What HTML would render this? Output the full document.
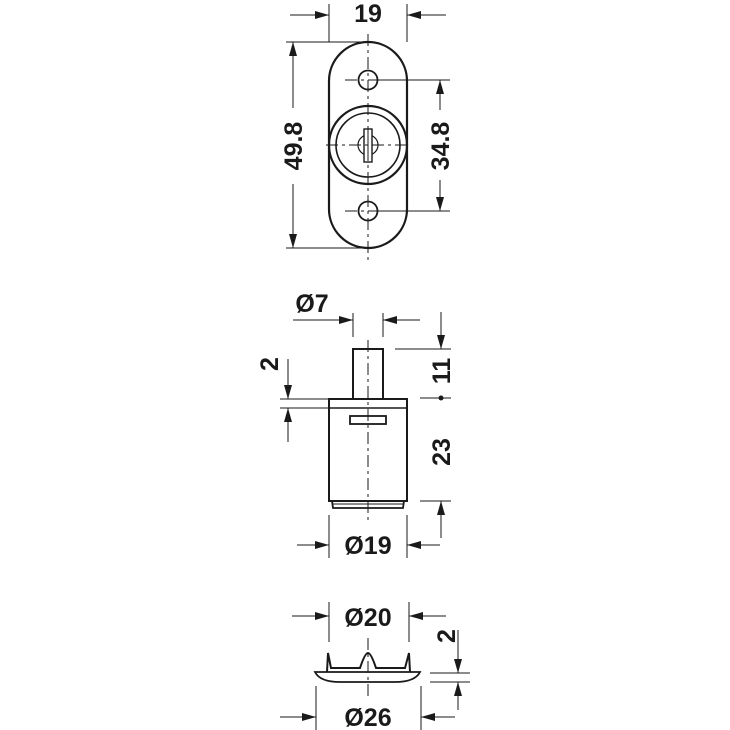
<!DOCTYPE html>
<html><head><meta charset="utf-8"><style>
body{margin:0;background:#fff}
svg{display:block}
text{font-family:"Liberation Sans",Arial,sans-serif;font-weight:bold;font-size:25px;fill:#1a1a1a}
</style></head><body>
<svg width="730" height="730" viewBox="0 0 730 730" xmlns="http://www.w3.org/2000/svg">
<defs>
<marker id="a" viewBox="0 0 14 8" refX="14" refY="4" markerWidth="14" markerHeight="8" markerUnits="userSpaceOnUse" orient="auto"><path d="M0,0 L14,4 L0,8 Z" fill="#1a1a1a"/></marker>
</defs>
<g stroke="#1a1a1a" fill="none">
<path d="M329,81 A39,39 0 0 1 407,81 L407,209 A39,39 0 0 1 329,209 Z" stroke-width="2.2"/>
<circle cx="368" cy="145" r="39" stroke-width="2.2"/>
<circle cx="368" cy="145" r="32" stroke-width="1.6"/>
<circle cx="368" cy="80" r="9.5" stroke-width="1.8"/>
<circle cx="368" cy="211" r="9.5" stroke-width="1.8"/>
<circle cx="368" cy="145" r="10" stroke-width="1.2"/>
<rect x="364" y="129" width="8" height="33" stroke-width="1.4" fill="#fff"/>
<line x1="368" y1="131" x2="368" y2="160" stroke-width="1"/>
<g stroke-width="1" stroke-dasharray="12,4,3,4">
<line x1="368" y1="34" x2="368" y2="262"/>
<line x1="326" y1="145" x2="410" y2="145"/>
<line x1="345" y1="80" x2="391" y2="80"/>
<line x1="345" y1="211" x2="391" y2="211"/>
</g>
<g stroke-width="1">
<line x1="329" y1="4" x2="329" y2="42"/>
<line x1="407" y1="4" x2="407" y2="42"/>
<line x1="290" y1="15" x2="329" y2="15" marker-end="url(#a)"/>
<line x1="446" y1="15" x2="407" y2="15" marker-end="url(#a)"/>
<line x1="286" y1="42" x2="368" y2="42"/>
<line x1="286" y1="248" x2="368" y2="248"/>
<line x1="293" y1="108" x2="293" y2="42" marker-end="url(#a)"/>
<line x1="293" y1="184" x2="293" y2="248" marker-end="url(#a)"/>
<line x1="378" y1="80" x2="450" y2="80"/>
<line x1="378" y1="211" x2="450" y2="211"/>
<line x1="440" y1="110" x2="440" y2="80" marker-end="url(#a)"/>
<line x1="440" y1="180" x2="440" y2="211" marker-end="url(#a)"/>
</g>
<rect x="353" y="349" width="30" height="50" stroke-width="2" fill="#fff"/>
<rect x="329" y="399" width="78" height="102" stroke-width="2" fill="#fff"/>
<line x1="329" y1="408" x2="407" y2="408" stroke-width="1.6"/>
<path d="M332,501 L333,508 L403,508 L404,501" stroke-width="1.8"/>
<line x1="333" y1="504" x2="403" y2="504" stroke-width="1"/>
<rect x="350" y="416" width="36" height="8" stroke-width="1.8"/>
<line x1="368" y1="340" x2="368" y2="520" stroke-width="1" stroke-dasharray="12,4,3,4"/>
<g stroke-width="1">
<line x1="353" y1="313" x2="353" y2="337"/>
<line x1="383" y1="313" x2="383" y2="337"/>
<line x1="293" y1="320" x2="353" y2="320" marker-end="url(#a)"/>
<line x1="420" y1="320" x2="383" y2="320" marker-end="url(#a)"/>
<line x1="395" y1="349" x2="451" y2="349"/>
<line x1="441" y1="312" x2="441" y2="349" marker-end="url(#a)"/>
<line x1="420" y1="398" x2="451" y2="398"/>
<line x1="420" y1="501" x2="451" y2="501"/>
<line x1="441" y1="538" x2="441" y2="501" marker-end="url(#a)"/>
<line x1="280" y1="399" x2="329" y2="399"/>
<line x1="280" y1="408" x2="329" y2="408"/>
<line x1="288" y1="359" x2="288" y2="399" marker-end="url(#a)"/>
<line x1="288" y1="442" x2="288" y2="408" marker-end="url(#a)"/>
<line x1="329" y1="515" x2="329" y2="558"/>
<line x1="407" y1="515" x2="407" y2="558"/>
<line x1="297" y1="545" x2="329" y2="545" marker-end="url(#a)"/>
<line x1="440" y1="545" x2="407" y2="545" marker-end="url(#a)"/>
</g>
<path d="M315,672 L420,672 Q415,682 395,682 L340,682 Q320,682 315,672 Z" stroke-width="1.8" fill="#fff"/>
<path d="M327,672 L328,653 L331,668 L360,668 Q365,653 368,653 Q371,653 376,668 L405,668 L409,653 L410,672" stroke-width="2"/>
<line x1="368" y1="638" x2="368" y2="700" stroke-width="1" stroke-dasharray="12,4,3,4"/>
<g stroke-width="1">
<line x1="329" y1="602" x2="329" y2="642"/>
<line x1="409" y1="602" x2="409" y2="642"/>
<line x1="292" y1="616" x2="329" y2="616" marker-end="url(#a)"/>
<line x1="446" y1="616" x2="409" y2="616" marker-end="url(#a)"/>
<line x1="316" y1="686" x2="316" y2="730"/>
<line x1="421" y1="686" x2="421" y2="730"/>
<line x1="280" y1="717" x2="316" y2="717" marker-end="url(#a)"/>
<line x1="455" y1="717" x2="421" y2="717" marker-end="url(#a)"/>
<line x1="430" y1="673" x2="470" y2="673"/>
<line x1="430" y1="682" x2="470" y2="682"/>
<line x1="458" y1="630" x2="458" y2="673" marker-end="url(#a)"/>
<line x1="458" y1="710" x2="458" y2="682" marker-end="url(#a)"/>
</g>
</g>
<circle cx="441" cy="398" r="2.5" fill="#1a1a1a"/>
<text x="368" y="22" text-anchor="middle">19</text>
<text transform="translate(302,146) rotate(-90)" text-anchor="middle">49.8</text>
<text transform="translate(449,146) rotate(-90)" text-anchor="middle">34.8</text>
<text x="312" y="312" text-anchor="middle">Ø7</text>
<text transform="translate(450,371) rotate(-90)" text-anchor="middle">11</text>
<text transform="translate(450,452) rotate(-90)" text-anchor="middle">23</text>
<text transform="translate(278,364) rotate(-90)" text-anchor="middle">2</text>
<text x="368" y="554" text-anchor="middle">Ø19</text>
<text x="368" y="626" text-anchor="middle">Ø20</text>
<text x="368" y="726" text-anchor="middle">Ø26</text>
<text transform="translate(455,636) rotate(-90)" text-anchor="middle">2</text>
</svg>
</body></html>
